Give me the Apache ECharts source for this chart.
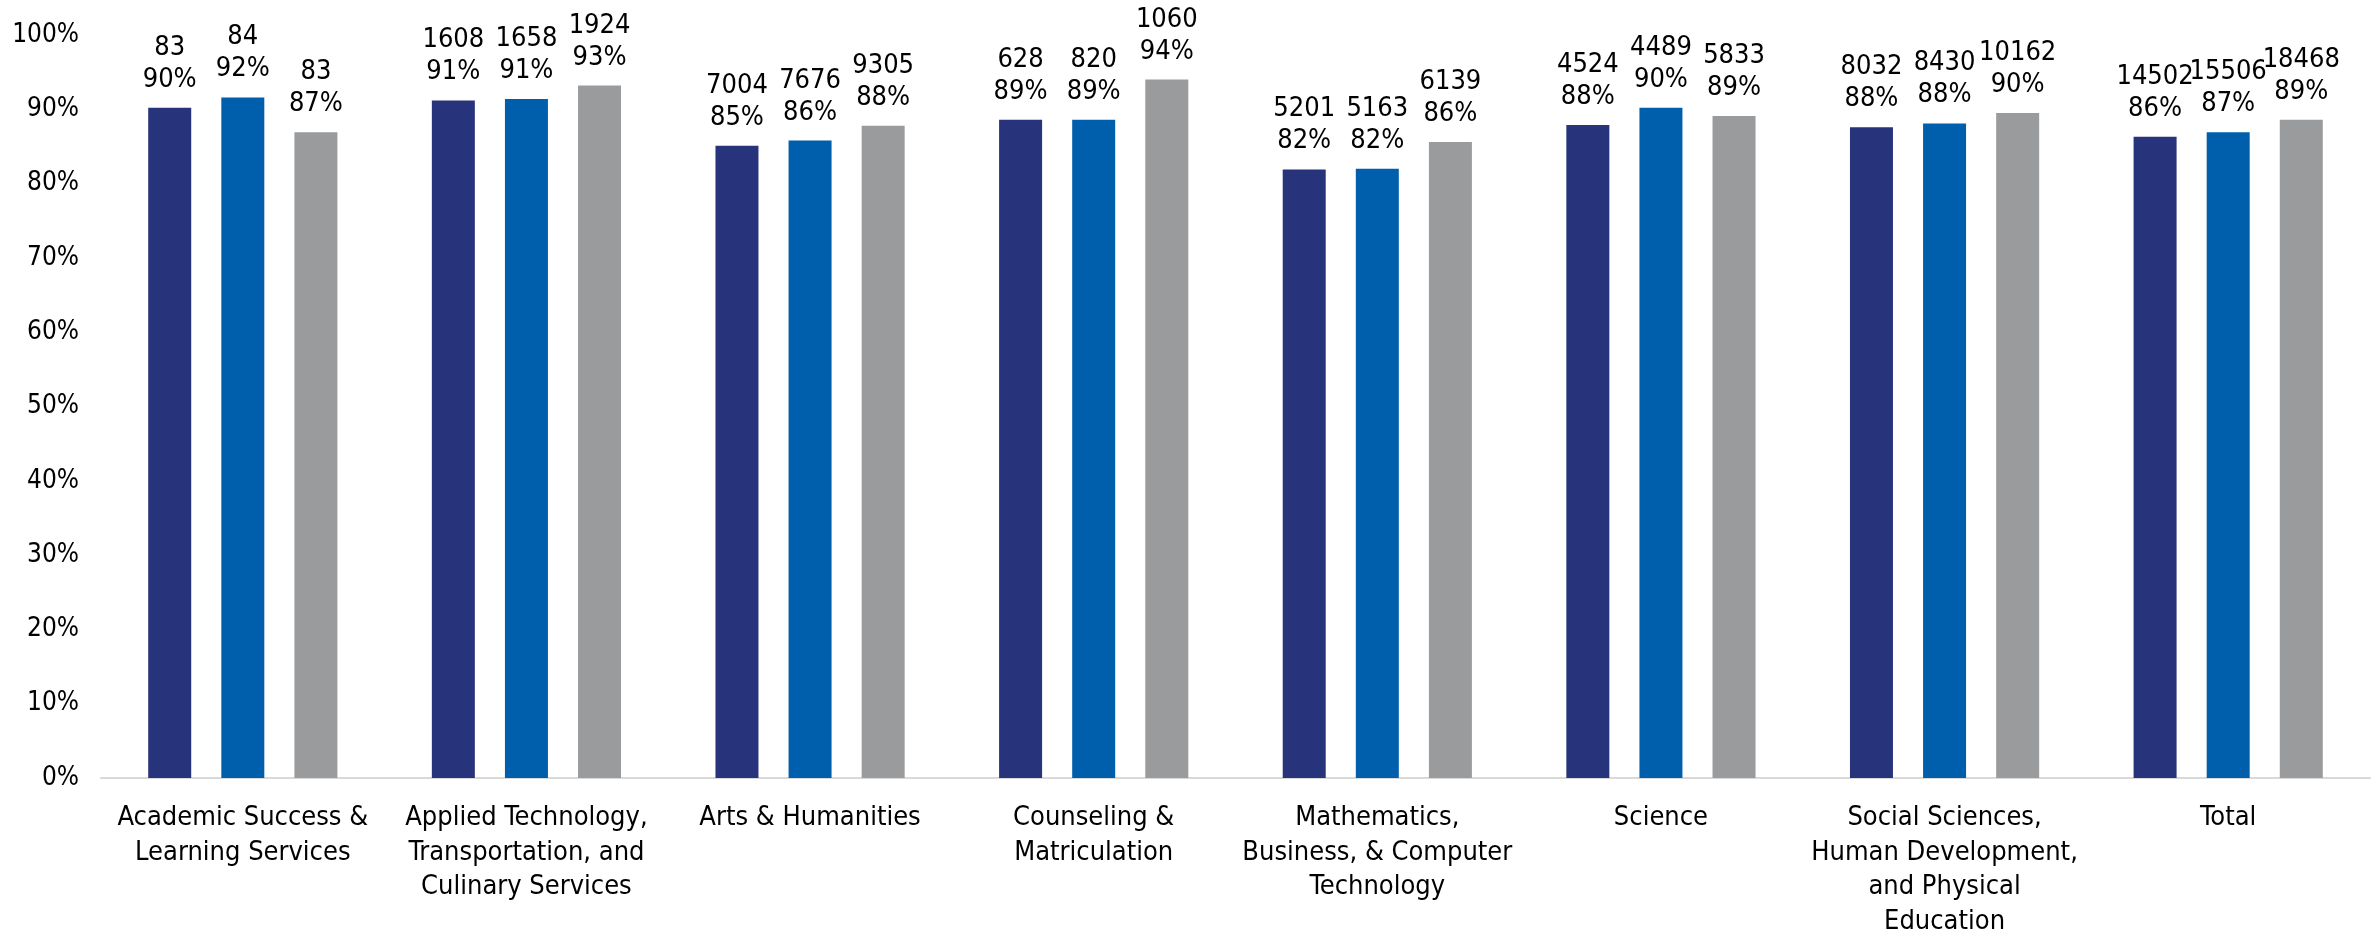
<!DOCTYPE html>
<html>
<head>
<meta charset="utf-8">
<script src="https://cdn.jsdelivr.net/npm/echarts@6/dist/echarts.min.js"></script>
<style>
html,body{margin:0;padding:0;background:#fff;}
#chart{width:2377px;height:939px;}
</style>
</head>
<body>
<div id="chart"></div>
<script>
const categories = [
  'Academic Success &\nLearning Services',
  'Applied Technology,\nTransportation, and\nCulinary Services',
  'Arts & Humanities',
  'Counseling &\nMatriculation',
  'Mathematics,\nBusiness, & Computer\nTechnology',
  'Science',
  'Social Sciences,\nHuman Development,\nand Physical\nEducation',
  'Total'
];
const yTickLabels = ['0%','10%','20%','30%','40%','50%','60%','70%','80%','90%','100%'];

const seriesNames = ['Series 1', 'Series 2', 'Series 3'];
const rate1 = [90.2, 91.2, 85.1, 88.6, 81.9, 87.9, 87.6, 86.3];
const rate2 = [91.6, 91.4, 85.8, 88.6, 82.0, 90.2, 88.1, 86.9];
const rate3 = [86.9, 93.2, 87.8, 94.0, 85.6, 89.1, 89.5, 88.6];
const count1 = [83, 1608, 7004, 628, 5201, 4524, 8032, 14502];
const count2 = [84, 1658, 7676, 820, 5163, 4489, 8430, 15506];
const count3 = [83, 1924, 9305, 1060, 6139, 5833, 10162, 18468];

const colors = ['#27337A', '#005FAC', '#9A9B9D'];
const FONT = '"Liberation Sans Narrow", "DejaVu Sans Condensed", "Roboto Condensed", "Liberation Sans", sans-serif';

function makeSeries(name, rates, counts, color) {
  return {
    name: name,
    type: 'bar',
    data: rates,
    barWidth: 43,
    barGap: '70%',
    itemStyle: { color: color },
    label: {
      show: true,
      position: 'top',
      distance: 12,
      color: '#000',
      fontFamily: FONT,
      fontSize: 27,
      lineHeight: 32,
      formatter: function (p) {
        return counts[p.dataIndex] + '\n' + Math.round(p.value) + '%';
      }
    }
  };
}

const chart = echarts.init(document.getElementById('chart'), null, { renderer: 'canvas' });
chart.setOption({
  animation: false,
  backgroundColor: '#fff',
  grid: { left: 101, right: 7, top: 35, bottom: 152, containLabel: false },
  xAxis: {
    type: 'category',
    data: categories,
    axisTick: { show: false },
    axisLine: { show: true, lineStyle: { color: '#D9D9D9', width: 2 } },
    axisLabel: {
      interval: 0,
      margin: 23,
      color: '#000',
      fontFamily: FONT,
      fontSize: 27,
      lineHeight: 34.5
    }
  },
  yAxis: {
    type: 'value',
    min: 0,
    max: 100,
    interval: 10,
    splitLine: { show: false },
    axisLine: { show: false },
    axisTick: { show: false },
    axisLabel: {
      margin: 22,
      color: '#000',
      fontFamily: FONT,
      fontSize: 26,
      formatter: function (v) { return yTickLabels[Math.round(v / 10)]; }
    }
  },
  series: [
    makeSeries(seriesNames[0], rate1, count1, colors[0]),
    makeSeries(seriesNames[1], rate2, count2, colors[1]),
    makeSeries(seriesNames[2], rate3, count3, colors[2])
  ]
});
</script>
</body>
</html>
